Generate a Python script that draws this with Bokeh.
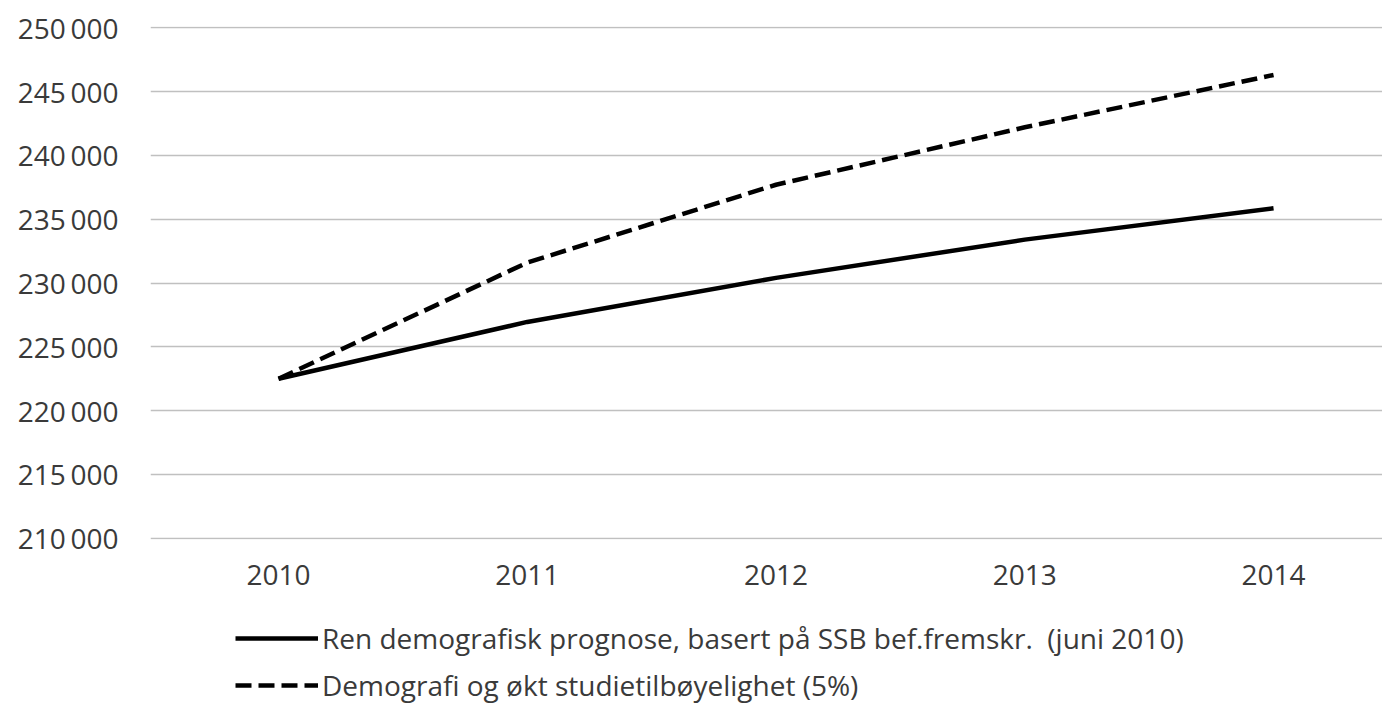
from bokeh.plotting import figure
from bokeh.layouts import column
from bokeh.models import FixedTicker, Legend, LegendItem, Range1d
from bokeh.embed import file_html
from bokeh.resources import INLINE

years = [2010, 2011, 2012, 2013, 2014]
ren_demografisk = [222500, 226950, 230400, 233400, 235850]
demografi_okt = [222500, 231600, 237700, 242200, 246300]
y_ticks = [210000, 215000, 220000, 225000, 230000, 235000, 240000, 245000, 250000]
y_tick_labels = ["210\u2009000", "215\u2009000", "220\u2009000", "225\u2009000", "230\u2009000",
                 "235\u2009000", "240\u2009000", "245\u2009000", "250\u2009000"]
x_tick_labels = ["2010", "2011", "2012", "2013", "2014"]
series_names = ["Ren demografisk prognose, basert på SSB bef.fremskr.  (juni 2010)",
                "Demografi og økt studietilbøyelighet (5%)"]

FONT = "Open Sans"
TXT = "#3a3a3a"
DASH = "16 7"
LW = 4.5

p = figure(width=1382, height=600, output_backend="svg", toolbar_location=None,
           x_range=Range1d(2009.4854, 2014.438), y_range=Range1d(209900, 250100),
           min_border_left=150, min_border_right=0, min_border_top=26, min_border_bottom=61)
p.outline_line_color = None
p.background_fill_color = "white"
p.border_fill_color = "white"

p.xgrid.grid_line_color = None
p.ygrid.grid_line_color = "#c0c0c0"
p.ygrid.grid_line_width = 1.5

p.yaxis.ticker = FixedTicker(ticks=y_ticks)
p.yaxis.major_label_overrides = {t: l for t, l in zip(y_ticks, y_tick_labels)}
p.xaxis.ticker = FixedTicker(ticks=years)
p.xaxis.major_label_overrides = {t: l for t, l in zip(years, x_tick_labels)}
for ax in (p.xaxis[0], p.yaxis[0]):
    ax.axis_line_color = None
    ax.major_tick_line_color = None
    ax.minor_tick_line_color = None
    ax.major_label_text_font = FONT
    ax.major_label_text_font_size = "28px"
    ax.major_label_text_color = TXT
p.yaxis.major_label_standoff = 26
p.xaxis.major_label_standoff = 19

p.line(years, ren_demografisk, line_color="black", line_width=LW)
p.line(years, demografi_okt, line_color="black", line_width=LW, line_dash=DASH)

# legend figure (series drawn out of view; only the legend is visible)
lg = figure(width=1382, height=108, output_backend="svg", toolbar_location=None,
            x_range=Range1d(0, 1), y_range=Range1d(0, 1),
            x_axis_type=None, y_axis_type=None,
            min_border_left=0, min_border_right=0, min_border_top=0, min_border_bottom=0)
lg.outline_line_color = None
lg.xgrid.grid_line_color = None
lg.ygrid.grid_line_color = None
l1 = lg.line(years, ren_demografisk, line_color="black", line_width=LW)
l2 = lg.line(years, demografi_okt, line_color="black", line_width=LW, line_dash=DASH)

legend = Legend(items=[LegendItem(label=series_names[0], renderers=[l1]),
                       LegendItem(label=series_names[1], renderers=[l2])],
                location=(85, 4), orientation="vertical")
legend.border_line_color = None
legend.background_fill_alpha = 0
legend.label_text_font = FONT
legend.label_text_font_size = "28px"
legend.label_text_color = TXT
legend.glyph_width = 83
legend.label_standoff = 4
legend.spacing = 9
legend.padding = 0
legend.margin = 0
lg.add_layout(legend, "center")

open("out.html", "w").write(file_html(column(p, lg, spacing=0), INLINE))
